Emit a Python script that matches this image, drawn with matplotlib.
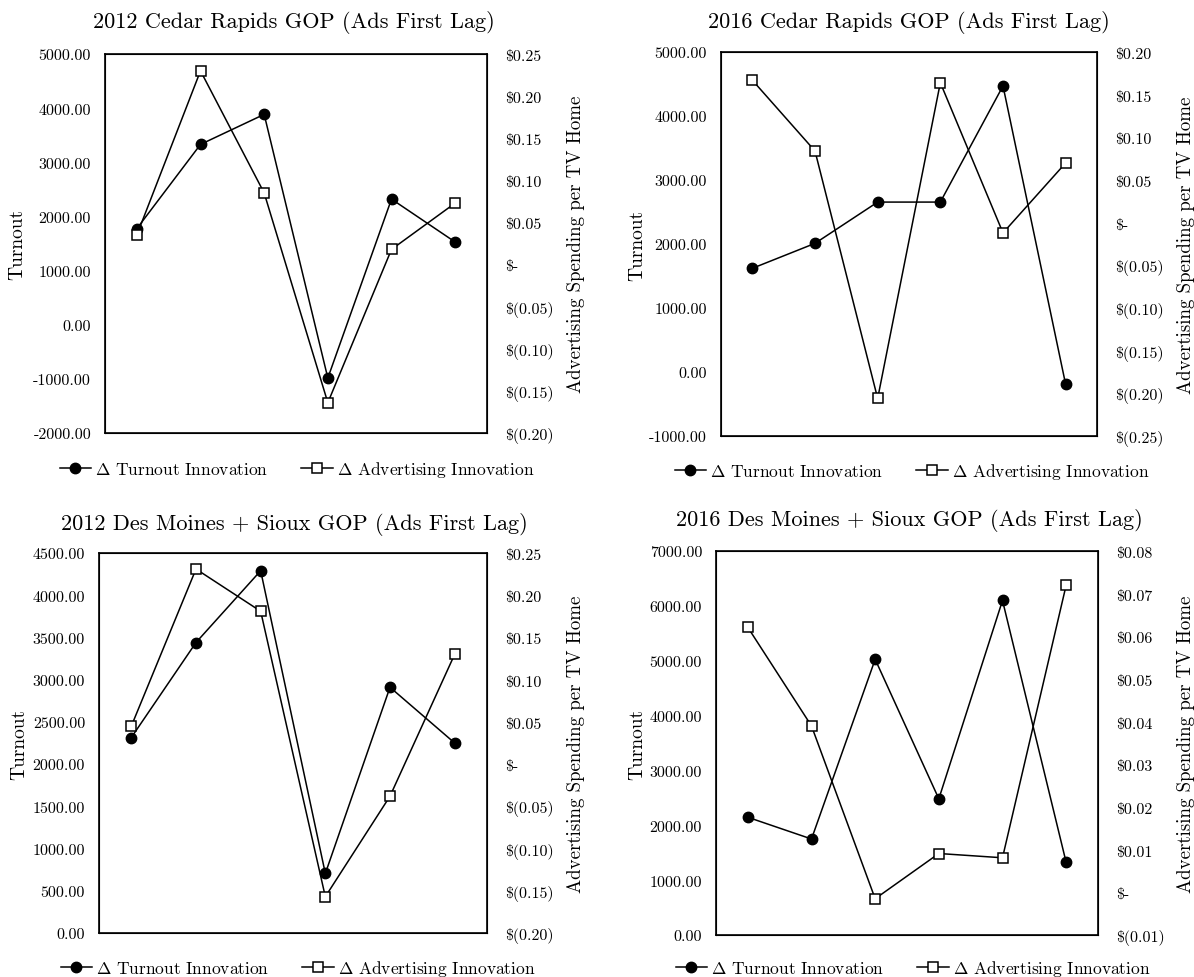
import matplotlib
matplotlib.use("Agg")
import matplotlib.pyplot as plt
from matplotlib.ticker import FuncFormatter, FixedLocator
from matplotlib.lines import Line2D

plt.rcParams['font.family'] = ['cmr10', 'DejaVu Serif']
plt.rcParams['mathtext.fontset'] = 'cm'
plt.rcParams['axes.unicode_minus'] = False

# six lagged periods on a category axis
periods = [0, 1, 2, 3, 4, 5]

titles = ["2012 Cedar Rapids GOP (Ads First Lag)",
          "2016 Cedar Rapids GOP (Ads First Lag)",
          "2012 Des Moines + Sioux GOP (Ads First Lag)",
          "2016 Des Moines + Sioux GOP (Ads First Lag)"]

turnout_cr12 = [1775, 3330, 3885, -985, 2320, 1527]
ads_cr12 = [0.035, 0.230, 0.085, -0.164, 0.018, 0.073]

turnout_cr16 = [1620, 2010, 2655, 2655, 4470, -195]
ads_cr16 = [0.167, 0.084, -0.206, 0.164, -0.012, 0.070]

turnout_dm12 = [2315, 3440, 4290, 705, 2910, 2250]
ads_dm12 = [0.045, 0.231, 0.181, -0.157, -0.038, 0.130]

turnout_dm16 = [2146, 1750, 5025, 2482, 6098, 1323]
ads_dm16 = [0.0621, 0.0390, -0.0015, 0.0091, 0.0081, 0.0720]

# axis ranges (left ticks, right ticks)
left_ticks = [list(range(-2000, 5001, 1000)),
              list(range(-1000, 5001, 1000)),
              list(range(0, 4501, 500)),
              list(range(0, 7001, 1000))]
right_ticks = [[-0.20, -0.15, -0.10, -0.05, 0.0, 0.05, 0.10, 0.15, 0.20, 0.25],
               [-0.25, -0.20, -0.15, -0.10, -0.05, 0.0, 0.05, 0.10, 0.15, 0.20],
               [-0.20, -0.15, -0.10, -0.05, 0.0, 0.05, 0.10, 0.15, 0.20, 0.25],
               [-0.01, 0.0, 0.01, 0.02, 0.03, 0.04, 0.05, 0.06, 0.07, 0.08]]

turnouts = [turnout_cr12, turnout_cr16, turnout_dm12, turnout_dm16]
ads = [ads_cr12, ads_cr16, ads_dm12, ads_dm16]

W, H = 1194, 978
# boxes in pixels: left, top, right, bottom
boxes = [(105, 55, 487, 434), (721, 53, 1097, 437),
         (99, 554, 487, 934), (716, 552, 1098, 936)]
title_pos = [(294, 23), (909, 22), (294, 524), (909, 521)]
legend_pos = [(297, 470), (912, 472), (298, 969), (913, 969)]
left_lab_x = [17, 637, 19, 637]
right_lab_x = [576, 1186, 576, 1186]


def money(v, pos):
    if abs(v) < 1e-9:
        return '$-'
    if v < 0:
        return '$(%.2f)' % -v
    return '$%.2f' % v


fig = plt.figure(figsize=(W / 100, H / 100), dpi=100)

for i in range(4):
    l, t, r, b = boxes[i]
    ax = fig.add_axes([l / W, 1 - b / H, (r - l) / W, (b - t) / H])
    ax2 = ax.twinx()

    ax.plot(periods, turnouts[i], color='black', lw=1.1, marker='o',
            markersize=7.5, markerfacecolor='black', zorder=3)
    ax2.plot(periods, ads[i], color='black', lw=1.1, marker='s',
             markersize=7, markerfacecolor='white', markeredgecolor='black',
             markeredgewidth=1.1, zorder=3)

    ax.set_xlim(-0.5, 5.5)
    ax.set_xticks([])
    ax.set_ylim(left_ticks[i][0], left_ticks[i][-1])
    ax.yaxis.set_major_locator(FixedLocator(left_ticks[i]))
    ax.yaxis.set_major_formatter(FuncFormatter(lambda v, p: '%.2f' % v))
    ax.tick_params(axis='y', length=0, pad=10, labelsize=11.5)

    ax2.set_ylim(right_ticks[i][0], right_ticks[i][-1])
    ax2.yaxis.set_major_locator(FixedLocator(right_ticks[i]))
    ax2.yaxis.set_major_formatter(FuncFormatter(money))
    ax2.tick_params(axis='y', length=0, pad=13, labelsize=11.5)

    for sp in ax2.spines.values():
        sp.set_linewidth(1.2)

    cy = (t + b) / 2
    fig.text(title_pos[i][0] / W, 1 - title_pos[i][1] / H, titles[i],
             ha='center', va='center', fontsize=16)
    fig.text(left_lab_x[i] / W, 1 - cy / H, 'Turnout', rotation=90,
             ha='center', va='center', fontsize=14)
    fig.text(right_lab_x[i] / W, 1 - cy / H, 'Advertising Spending per TV Home',
             rotation=90, ha='center', va='center', fontsize=13.6)

    h1 = Line2D([], [], color='black', lw=1.1, marker='o', markersize=7.5,
                markerfacecolor='black')
    h2 = Line2D([], [], color='black', lw=1.1, marker='s', markersize=7,
                markerfacecolor='white', markeredgewidth=1.1)
    ax2.legend([h1, h2], [r'$\Delta$ Turnout Innovation', r'$\Delta$ Advertising Innovation'],
               loc='center', bbox_to_anchor=(legend_pos[i][0] / W, 1 - legend_pos[i][1] / H),
               bbox_transform=fig.transFigure, ncol=2, frameon=False, fontsize=12.5,
               handlelength=1.8, handletextpad=0.25, columnspacing=1.9,
               borderpad=0, borderaxespad=0)

fig.savefig('out.png', dpi=100)
